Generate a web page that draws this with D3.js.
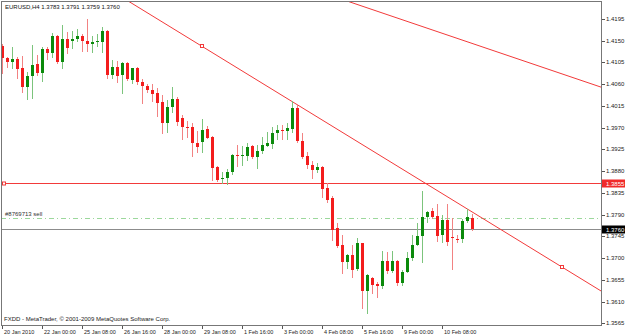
<!DOCTYPE html>
<html>
<head>
<meta charset="utf-8">
<script src="https://cdn.jsdelivr.net/npm/d3@7"></script>
<style>
  html, body { margin: 0; padding: 0; background: #fff; }
  svg { display: block; font-family: "Liberation Sans", Arial, sans-serif; }
</style>
</head>
<body>
<svg id="chart" width="625" height="336"></svg>
<script>
const symbol = "EURUSD";
const period = "H4";

// H4 bars, 20 Jan 2010 16:00 -> 11 Feb 2010 08:00
const opens = [
  1.4138, 1.4115, 1.4105, 1.4112, 1.4093, 1.4055, 1.4076, 1.4101, 1.4084, 1.4133,
  1.4125, 1.4160, 1.4105, 1.4154, 1.4150, 1.4153, 1.4160, 1.4149, 1.4143, 1.4147,
  1.4148, 1.4171, 1.4078, 1.4096, 1.4078, 1.4103, 1.4069, 1.4093, 1.4065, 1.4056,
  1.4048, 1.4041, 1.4023, 1.3979, 1.4013, 1.4029, 1.3989, 1.3972, 1.3971, 1.3939,
  1.3940, 1.3967, 1.3951, 1.3889, 1.3864, 1.3865, 1.3878, 1.3913, 1.3911, 1.3912,
  1.3933, 1.3909, 1.3922, 1.3933, 1.3936, 1.3958, 1.3965, 1.3964, 1.3967, 1.4011,
  1.3942, 1.3911, 1.3893, 1.3882, 1.3889, 1.3845, 1.3824, 1.3762, 1.3726, 1.3691,
  1.3706, 1.3677, 1.3731, 1.3632, 1.3659, 1.3647, 1.3643, 1.3694, 1.3673, 1.3694,
  1.3648, 1.3672, 1.3700, 1.3728, 1.3746, 1.3784, 1.3797, 1.3788, 1.3748, 1.3779,
  1.3744, 1.3740, 1.3739, 1.3777, 1.3783,
];
const highs = [
  1.4143, 1.4117, 1.4136, 1.4117, 1.4119, 1.4086, 1.4141, 1.4120, 1.4136, 1.4136,
  1.4165, 1.4162, 1.4183, 1.4167, 1.4170, 1.4174, 1.4163, 1.4195, 1.4160, 1.4163,
  1.4179, 1.4172, 1.4110, 1.4107, 1.4105, 1.4105, 1.4094, 1.4096, 1.4070, 1.4060,
  1.4060, 1.4052, 1.4038, 1.4027, 1.4054, 1.4034, 1.3996, 1.3984, 1.3979, 1.3964,
  1.3988, 1.3974, 1.3952, 1.3891, 1.3879, 1.3884, 1.3915, 1.3934, 1.3932, 1.3938,
  1.3934, 1.3934, 1.3951, 1.3960, 1.3971, 1.3976, 1.3976, 1.3979, 1.4025, 1.4018,
  1.3958, 1.3920, 1.3900, 1.3896, 1.3891, 1.3855, 1.3829, 1.3772, 1.3748, 1.3708,
  1.3727, 1.3742, 1.3731, 1.3666, 1.3661, 1.3651, 1.3715, 1.3712, 1.3715, 1.3696,
  1.3675, 1.3713, 1.3748, 1.3772, 1.3839, 1.3797, 1.3804, 1.3811, 1.3789, 1.3811,
  1.3782, 1.3748, 1.3780, 1.3802, 1.3791,
];
const lows = [
  1.4083, 1.4096, 1.4093, 1.4073, 1.4044, 1.4029, 1.4031, 1.4079, 1.4067, 1.4112,
  1.4116, 1.4103, 1.4094, 1.4124, 1.4134, 1.4149, 1.4129, 1.4129, 1.4127, 1.4138,
  1.4126, 1.4073, 1.4072, 1.4065, 1.4041, 1.4069, 1.4062, 1.4060, 1.4020, 1.4044,
  1.4026, 1.3994, 1.3958, 1.3960, 1.4003, 1.3976, 1.3947, 1.3950, 1.3912, 1.3920,
  1.3920, 1.3948, 1.3862, 1.3860, 1.3855, 1.3853, 1.3873, 1.3891, 1.3893, 1.3903,
  1.3907, 1.3886, 1.3917, 1.3932, 1.3927, 1.3947, 1.3947, 1.3947, 1.3962, 1.3941,
  1.3907, 1.3886, 1.3866, 1.3879, 1.3827, 1.3817, 1.3737, 1.3722, 1.3669, 1.3679,
  1.3661, 1.3675, 1.3596, 1.3586, 1.3627, 1.3620, 1.3639, 1.3669, 1.3672, 1.3644,
  1.3644, 1.3671, 1.3696, 1.3726, 1.3691, 1.3775, 1.3782, 1.3735, 1.3733, 1.3727,
  1.3677, 1.3733, 1.3733, 1.3775, 1.3759,
];
const closes = [
  1.4114, 1.4105, 1.4112, 1.4091, 1.4055, 1.4076, 1.4100, 1.4083, 1.4133, 1.4125,
  1.4160, 1.4105, 1.4154, 1.4134, 1.4154, 1.4160, 1.4149, 1.4143, 1.4148, 1.4150,
  1.4171, 1.4079, 1.4096, 1.4076, 1.4103, 1.4070, 1.4093, 1.4065, 1.4056, 1.4047,
  1.4040, 1.4022, 1.3979, 1.4013, 1.4029, 1.3981, 1.3971, 1.3970, 1.3938, 1.3929,
  1.3965, 1.3949, 1.3887, 1.3862, 1.3866, 1.3879, 1.3913, 1.3911, 1.3913, 1.3929,
  1.3910, 1.3922, 1.3934, 1.3938, 1.3958, 1.3965, 1.3964, 1.3969, 1.4011, 1.3942,
  1.3910, 1.3893, 1.3882, 1.3889, 1.3843, 1.3820, 1.3758, 1.3724, 1.3691, 1.3706,
  1.3675, 1.3731, 1.3632, 1.3665, 1.3644, 1.3643, 1.3694, 1.3673, 1.3694, 1.3648,
  1.3672, 1.3700, 1.3728, 1.3746, 1.3786, 1.3796, 1.3786, 1.3746, 1.3779, 1.3734,
  1.3741, 1.3737, 1.3777, 1.3784, 1.3760,
];

// one time label every 8 bars
const dateLabels = [
  "20 Jan 2010", "22 Jan 00:00", "25 Jan 08:00", "26 Jan 16:00", "28 Jan 00:00", "29 Jan 08:00",
  "1 Feb 16:00", "3 Feb 00:00", "4 Feb 08:00", "5 Feb 16:00", "9 Feb 00:00", "10 Feb 08:00",
];
const labelEvery = 8;

const priceTicks = [
  1.4195, 1.4150, 1.4105, 1.4060, 1.4015, 1.3970, 1.3925, 1.3880,
  1.3835, 1.3790, 1.3745, 1.3700, 1.3655, 1.3610, 1.3565,
];

// trend lines as two anchors: [bar index, price]
const trendLines = [
  { a: [40, 1.4138], b: [112, 1.3681], markers: true },
  { a: [69, 1.4232], b: [120, 1.4053], markers: false },
];
const hLevels = [1.3855];
const orders = [{ ticket: "#8769713", type: "sell", price: 1.3782 }];

const W = 625, H = 336;
const plot = { left: 1, top: 1, right: 601, bottom: 325 };
const fontSize = 6;

const upBody = "#0b8a0b", upWick = "#7cc47c";
const dnBody = "#f31d1d", dnWick = "#f28282";
const lineRed = "#f23a3a";

const svg = d3.select("#chart");

svg.append("rect").attr("width", W).attr("height", H).attr("fill", "#fff");

const x = d3.scaleLinear().domain([-0.26, 119.74]).range([plot.left, plot.right]);
const y = d3.scaleLinear().domain([1.35614, 1.42322]).range([plot.bottom, plot.top]);
const px = (i) => Math.round(x(i));
const py = (p) => Math.round(y(p));

svg
  .append("defs")
  .append("clipPath")
  .attr("id", "plot-clip")
  .append("rect")
  .attr("x", plot.left)
  .attr("y", plot.top)
  .attr("width", plot.right - plot.left)
  .attr("height", plot.bottom - plot.top);

const g = svg.append("g").attr("clip-path", "url(#plot-clip)");

// order line (dash-dot) and its label
orders.forEach((o) => {
  g.append("line")
    .attr("x1", plot.left)
    .attr("x2", plot.right)
    .attr("y1", py(o.price) + 0.5)
    .attr("y2", py(o.price) + 0.5)
    .attr("stroke", "#9cd89c")
    .attr("stroke-dasharray", "5,3,1,3")
    .attr("shape-rendering", "crispEdges");
  g.append("text")
    .attr("x", 5)
    .attr("y", py(o.price) - 2)
    .attr("font-size", fontSize)
    .attr("fill", "#333")
    .text(`${o.ticket} ${o.type}`);
});

// bid line at last close
const last = closes.length - 1;
g.append("line")
  .attr("x1", plot.left)
  .attr("x2", plot.right)
  .attr("y1", py(closes[last]) + 0.5)
  .attr("y2", py(closes[last]) + 0.5)
  .attr("stroke", "#8c8c8c")
  .attr("shape-rendering", "crispEdges");

// horizontal levels
hLevels.forEach((lv) => {
  g.append("line")
    .attr("x1", plot.left)
    .attr("x2", plot.right)
    .attr("y1", py(lv) + 0.5)
    .attr("y2", py(lv) + 0.5)
    .attr("stroke", lineRed)
    .attr("shape-rendering", "crispEdges");
  g.append("rect")
    .attr("x", plot.left + 1.5)
    .attr("y", py(lv) - 1)
    .attr("width", 3)
    .attr("height", 3)
    .attr("fill", "#fff")
    .attr("stroke", lineRed);
});

// trend lines, extended across the plot
trendLines.forEach((t) => {
  const x1 = x(t.a[0]), y1 = y(t.a[1]);
  const x2 = x(t.b[0]), y2 = y(t.b[1]);
  const k = (y2 - y1) / (x2 - x1);
  g.append("line")
    .attr("x1", plot.left)
    .attr("y1", y1 + (plot.left - x1) * k)
    .attr("x2", plot.right)
    .attr("y2", y1 + (plot.right - x1) * k)
    .attr("stroke", lineRed)
    .attr("stroke-width", 1);
  if (t.markers) {
    [[x1, y1], [x2, y2]].forEach(([mx, my]) => {
      g.append("rect")
        .attr("x", Math.round(mx) - 1.5)
        .attr("y", Math.round(my) - 1.5)
        .attr("width", 3)
        .attr("height", 3)
        .attr("fill", "#fff")
        .attr("stroke", lineRed);
    });
  }
});

// candles
const bars = d3.range(opens.length);
const candle = g
  .append("g")
  .selectAll(".candle")
  .data(bars)
  .enter()
  .append("g")
  .attr("class", "candle")
  .attr("shape-rendering", "crispEdges");

candle
  .append("line")
  .attr("x1", (i) => px(i) + 0.5)
  .attr("x2", (i) => px(i) + 0.5)
  .attr("y1", (i) => py(highs[i]))
  .attr("y2", (i) => py(lows[i]) + 1)
  .attr("stroke", (i) => (closes[i] >= opens[i] ? upWick : dnWick));

candle
  .append("rect")
  .attr("x", (i) => px(i) - 1)
  .attr("width", 3)
  .attr("y", (i) => py(Math.max(opens[i], closes[i])))
  .attr("height", (i) => Math.max(1, py(Math.min(opens[i], closes[i])) - py(Math.max(opens[i], closes[i]))))
  .attr("fill", (i) => (closes[i] >= opens[i] ? upBody : dnBody));

// frame
svg
  .append("rect")
  .attr("x", plot.left + 0.5)
  .attr("y", plot.top + 0.5)
  .attr("width", plot.right - plot.left)
  .attr("height", plot.bottom - plot.top)
  .attr("fill", "none")
  .attr("stroke", "#777")
  .attr("shape-rendering", "crispEdges");

// price axis
const yAxis = svg.append("g");
priceTicks.forEach((v) => {
  yAxis
    .append("line")
    .attr("x1", plot.right + 1)
    .attr("x2", plot.right + 4)
    .attr("y1", py(v) + 0.5)
    .attr("y2", py(v) + 0.5)
    .attr("stroke", "#555")
    .attr("shape-rendering", "crispEdges");
  yAxis
    .append("text")
    .attr("x", plot.right + 5)
    .attr("y", py(v))
    .attr("dy", "0.35em")
    .attr("font-size", fontSize)
    .attr("fill", "#222")
    .text(v.toFixed(4));
});

function priceBox(v, bg) {
  yAxis
    .append("rect")
    .attr("x", plot.right + 1)
    .attr("y", py(v) - 3.5)
    .attr("width", W - plot.right - 1)
    .attr("height", 8)
    .attr("fill", bg);
  yAxis
    .append("text")
    .attr("x", plot.right + 5)
    .attr("y", py(v) + 0.5)
    .attr("dy", "0.35em")
    .attr("font-size", fontSize)
    .attr("fill", "#fff")
    .text(v.toFixed(4));
}
hLevels.forEach((lv) => priceBox(lv, "#f02a2a"));
priceBox(closes[last], "#000");

// time axis
const xAxis = svg.append("g");
dateLabels.forEach((lab, k) => {
  const i = k * labelEvery;
  xAxis
    .append("line")
    .attr("x1", px(i) + 0.5)
    .attr("x2", px(i) + 0.5)
    .attr("y1", plot.bottom + 1)
    .attr("y2", plot.bottom + 4)
    .attr("stroke", "#555")
    .attr("shape-rendering", "crispEdges");
  xAxis
    .append("text")
    .attr("x", px(i) + 2)
    .attr("y", plot.bottom + 8.5)
    .attr("font-size", fontSize - 0.5)
    .attr("fill", "#222")
    .text(lab);
});

// header and footer
svg
  .append("text")
  .attr("x", 5)
  .attr("y", 9)
  .attr("font-size", fontSize)
  .attr("fill", "#111")
  .text(`${symbol},${period} ${opens[last].toFixed(4)} ${highs[last].toFixed(4)} ${lows[last].toFixed(4)} ${closes[last].toFixed(4)}`);

svg
  .append("text")
  .attr("x", 4)
  .attr("y", 321)
  .attr("font-size", fontSize)
  .attr("fill", "#222")
  .text("FXDD - MetaTrader, \u00a9 2001-2009 MetaQuotes Software Corp.");
</script>
</body>
</html>
